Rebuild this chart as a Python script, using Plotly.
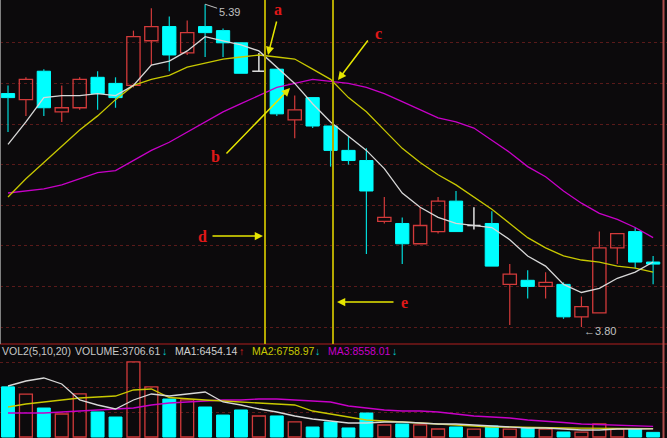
import plotly.graph_objects as go

# ---------------- data ----------------
opens = [4.95, 4.92, 5.06, 4.86, 4.88, 5.03, 5.00, 4.99, 5.21, 5.28, 5.15, 5.28, 5.26, 5.20, 5.06, 5.07,
         4.82, 4.93, 4.79, 4.67, 4.62, 4.32, 4.31, 4.21, 4.27, 4.42, 4.30, 4.31, 4.01, 4.03, 4.00, 4.01,
         3.85, 3.87, 4.19, 4.27, 4.12]
closes = [4.93, 5.02, 4.88, 4.88, 5.02, 4.95, 4.93, 5.23, 5.28, 5.14, 5.25, 5.25, 5.20, 5.05, 5.06, 4.85,
          4.87, 4.79, 4.67, 4.62, 4.47, 4.34, 4.21, 4.30, 4.42, 4.27, 4.30, 4.10, 4.06, 4.00, 4.02, 3.85,
          3.90, 4.19, 4.26, 4.12, 4.11]
highs = [4.99, 5.03, 5.07, 4.99, 5.03, 5.06, 5.03, 5.26, 5.37, 5.33, 5.31, 5.39, 5.27, 5.20, 5.15, 5.07,
         4.94, 4.93, 4.79, 4.74, 4.68, 4.44, 4.34, 4.39, 4.44, 4.47, 4.39, 4.37, 4.11, 4.08, 4.07, 4.02,
         3.95, 4.27, 4.26, 4.29, 4.15]
lows = [4.76, 4.84, 4.84, 4.81, 4.87, 4.87, 4.88, 4.98, 5.09, 5.06, 5.14, 5.13, 5.13, 5.05, 5.06, 4.84,
        4.73, 4.78, 4.59, 4.60, 4.16, 4.31, 4.11, 4.21, 4.26, 4.27, 4.28, 4.10, 3.81, 3.94, 3.94, 3.84,
        3.80, 3.87, 4.11, 4.09, 4.01]

ma5 = [4.70, 4.81, 4.93, 4.94, 4.94, 4.95, 4.94, 4.99, 5.09, 5.11, 5.16, 5.23, 5.21, 5.19, 5.16, 5.08,
       5.00, 4.90, 4.81, 4.74, 4.67, 4.58, 4.46, 4.39, 4.34, 4.31, 4.30, 4.29, 4.23, 4.15, 4.10, 4.01,
       3.97, 3.99, 4.04, 4.07, 4.12]
ma10 = [4.44, 4.53, 4.61, 4.69, 4.77, 4.84, 4.92, 4.99, 5.02, 5.04, 5.08, 5.10, 5.12, 5.13, 5.14, 5.13,
        5.12, 5.07, 5.02, 4.93, 4.86, 4.77, 4.68, 4.61, 4.55, 4.50, 4.44, 4.38, 4.31, 4.24, 4.19, 4.15,
        4.13, 4.12, 4.10, 4.09, 4.07]
ma20 = [4.46, 4.47, 4.48, 4.50, 4.53, 4.56, 4.57, 4.62, 4.67, 4.71, 4.76, 4.81, 4.86, 4.90, 4.94, 4.98,
        5.00, 5.02, 5.01, 5.00, 4.98, 4.95, 4.91, 4.87, 4.83, 4.81, 4.78, 4.72, 4.66, 4.59, 4.54, 4.47,
        4.41, 4.36, 4.33, 4.29, 4.24]

volume = [40120, 34350, 23180, 18420, 34460, 20050, 15980, 60100, 40060, 30380, 29640, 24010, 17560,
          21620, 16790, 16830, 12040, 7980, 12010, 7230, 19180, 9610, 10380, 9640, 6420, 8030, 6380,
          8810, 6370, 7220, 6410, 4020, 3980, 10420, 6390, 6430, 3706.61]
vol_ma1 = [40800, 44800, 47200, 42400, 29600, 25600, 22400, 29600, 34400, 32800, 34400, 36000, 28000,
           25600, 22400, 20000, 16800, 14400, 12800, 11200, 11200, 12000, 12000, 11200, 10400, 10400,
           9600, 8800, 8000, 7200, 7200, 6400, 5600, 5600, 6400, 6400, 6454.14]
vol_ma2 = [24000, 26400, 28000, 29600, 31200, 32000, 32800, 37600, 38400, 31600, 30400, 29600, 28800,
           28000, 27200, 26400, 25600, 20800, 18400, 16000, 13600, 12800, 12000, 11200, 10400, 9600,
           8800, 8000, 8000, 7600, 7400, 7200, 7100, 7000, 6900, 6850, 6758.97]
vol_ma3 = [19200, 19200, 19200, 20000, 20800, 21600, 22400, 23200, 25600, 27200, 28000, 28800, 29600,
           29600, 30400, 30400, 29600, 28800, 28000, 24800, 23200, 21600, 20800, 20800, 20000, 18400,
           16800, 16000, 15200, 13600, 12800, 11600, 10400, 9800, 9300, 8900, 8558.01]

price_grid = [3.8, 4.0, 4.2, 4.4, 4.6, 4.8, 5.0, 5.2]
vol_grid = [20000, 40000, 60000]

# ---------------- styling ----------------
BG = "#0c0a0c"
RED = "#d23a3a"
CYAN = "#00ffff"
WHITE = "#d8d8d8"
YELLOW = "#c8c800"
MAGENTA = "#c800c8"
GRID = "#5a1a1a"
BODY_W = 0.74

n = len(opens)
idx = list(range(n))

fig = go.Figure()

# ---------------- candle bodies ----------------
up_i = [i for i in idx if closes[i] > opens[i]]
dn_i = [i for i in idx if closes[i] < opens[i]]
dj_i = [i for i in idx if closes[i] == opens[i]]

fig.add_trace(go.Bar(
    x=up_i, base=[opens[i] for i in up_i], y=[closes[i] - opens[i] for i in up_i],
    width=BODY_W, marker=dict(color="rgba(0,0,0,0)", line=dict(color=RED, width=1.3)),
    xaxis="x", yaxis="y", hoverinfo="skip"))
fig.add_trace(go.Bar(
    x=dn_i, base=[closes[i] for i in dn_i], y=[opens[i] - closes[i] for i in dn_i],
    width=BODY_W, marker=dict(color=CYAN, line=dict(color=CYAN, width=1)),
    xaxis="x", yaxis="y", hoverinfo="skip"))


def wicks(ids):
    xs, ys = [], []
    for i in ids:
        top = max(opens[i], closes[i])
        bot = min(opens[i], closes[i])
        if highs[i] > top:
            xs += [i, i, None]
            ys += [highs[i], top, None]
        if lows[i] < bot:
            xs += [i, i, None]
            ys += [bot, lows[i], None]
    return xs, ys


for ids, col in ((up_i, RED), (dn_i, "#00d8d8")):
    wx, wy = wicks(ids)
    fig.add_trace(go.Scatter(x=wx, y=wy, mode="lines", line=dict(color=col, width=1.2),
                             xaxis="x", yaxis="y", hoverinfo="skip"))

# doji (open == close) drawn in white
dx, dy = [], []
for i in dj_i:
    dx += [i, i, None, i - BODY_W / 2, i + BODY_W / 2, None]
    dy += [highs[i], lows[i], None, opens[i], opens[i], None]
fig.add_trace(go.Scatter(x=dx, y=dy, mode="lines", line=dict(color="#e0e0e0", width=1.5),
                         xaxis="x", yaxis="y", hoverinfo="skip"))

# ---------------- price moving averages ----------------
for vals, col in ((ma20, MAGENTA), (ma10, YELLOW), (ma5, WHITE)):
    fig.add_trace(go.Scatter(x=idx, y=vals, mode="lines", line=dict(color=col, width=1.3),
                             xaxis="x", yaxis="y", hoverinfo="skip"))

# ---------------- volume ----------------
vup = [i for i in idx if closes[i] >= opens[i]]
vdn = [i for i in idx if closes[i] < opens[i]]
fig.add_trace(go.Bar(x=vup, y=[volume[i] for i in vup], width=0.72,
                     marker=dict(color="rgba(0,0,0,0)", line=dict(color=RED, width=1.3)),
                     xaxis="x2", yaxis="y2", hoverinfo="skip"))
fig.add_trace(go.Bar(x=vdn, y=[volume[i] for i in vdn], width=0.72,
                     marker=dict(color=CYAN, line=dict(color=CYAN, width=1)),
                     xaxis="x2", yaxis="y2", hoverinfo="skip"))
for vals, col in ((vol_ma3, MAGENTA), (vol_ma2, YELLOW), (vol_ma1, WHITE)):
    fig.add_trace(go.Scatter(x=idx, y=vals, mode="lines", line=dict(color=col, width=1.3),
                             xaxis="x2", yaxis="y2", hoverinfo="skip"))

# ---------------- layout ----------------
W, H = 667, 438
SPLIT = 1 - 344 / H
x_lo = -8 / 17.92
x_hi = (W - 8) / 17.92

fig.update_layout(
    width=W, height=H, margin=dict(l=0, r=0, t=0, b=0),
    paper_bgcolor=BG, plot_bgcolor=BG, showlegend=False, barmode="overlay",
    xaxis=dict(domain=[0, 1], range=[x_lo, x_hi], showgrid=False, zeroline=False,
               showticklabels=False, ticks="", anchor="y"),
    xaxis2=dict(domain=[0, 1], range=[x_lo, x_hi], showgrid=False, zeroline=False,
                showticklabels=False, ticks="", anchor="y2", matches="x"),
    yaxis=dict(domain=[SPLIT, 1], range=[3.8 - 17 / 203, 3.8 + 327 / 203],
               tickvals=price_grid, showticklabels=False, ticks="", zeroline=False,
               gridcolor=GRID, griddash="dot", gridwidth=1),
    yaxis2=dict(domain=[0, SPLIT], range=[-800, 74400], tickvals=vol_grid,
                showticklabels=False, ticks="", zeroline=False,
                gridcolor=GRID, griddash="dot", gridwidth=1),
)

shapes = [
    dict(type="line", xref="paper", yref="paper", x0=0, x1=1, y0=SPLIT, y1=SPLIT,
         line=dict(color="#7a1818", width=1.5)),
    dict(type="line", xref="paper", yref="paper", x0=663.5 / W, x1=663.5 / W, y0=0, y1=1,
         line=dict(color="#b04c4c", width=2)),
    dict(type="line", xref="paper", yref="paper", x0=0.5 / W, x1=0.5 / W, y0=SPLIT, y1=1,
         line=dict(color="#808080", width=1)),
]
for vx in ((265 - 8) / 17.92, (333 - 8) / 17.92):
    shapes.append(dict(type="line", xref="x", yref="paper", x0=vx, x1=vx, y0=SPLIT, y1=1,
                       line=dict(color="#b4a800", width=2)))
fig.update_layout(shapes=shapes)


def px2x(p):
    return (p - 8) / 17.92


def py2y(p):
    return 3.8 + (327 - p) / 203


annotations = []
ARROW = "#e6e600"
# arrows (head, tail) in pixel positions converted to data coords
arrows = [((268, 55), (277, 20)),
          ((338, 80), (369, 39)),
          ((290, 88), (225, 155)),
          ((263, 236), (211, 236)),
          ((337, 302), (395, 302))]
for (hx, hy), (tx, ty) in arrows:
    annotations.append(dict(x=px2x(hx), y=py2y(hy), ax=px2x(tx), ay=py2y(ty),
                            xref="x", yref="y", axref="x", ayref="y", text="",
                            showarrow=True, arrowhead=2, arrowsize=1.1, arrowwidth=1.5,
                            arrowcolor=ARROW))
labels = [("a", 278, 9), ("c", 378, 33), ("b", 215, 156), ("d", 202, 236), ("e", 404, 302)]
for t, lx, ly in labels:
    annotations.append(dict(x=px2x(lx), y=py2y(ly), xref="x", yref="y", text="<b>" + t + "</b>",
                            showarrow=False,
                            font=dict(family="Liberation Serif", size=16, color="#e01818")))

# high / low marks
annotations.append(dict(x=11, y=highs[11], xref="x", yref="y", text=f"{highs[11]:.2f}",
                        showarrow=True, ax=24, ay=8, arrowhead=0, arrowwidth=1,
                        arrowcolor="#c0c0c0",
                        font=dict(family="Liberation Sans", size=11, color="#c0c0c0")))
annotations.append(dict(x=32 + 0.02, y=lows[32], xref="x", yref="y", text=f"←{lows[32]:.2f}",
                        showarrow=False, xanchor="left", yanchor="middle", yshift=-4,
                        font=dict(family="Liberation Sans", size=11, color="#c0c0c0")))

# volume header
hy = 1 - 351 / H
hdr = [(0, "VOL2(5,10,20)", "#c8c8c8"),
       (73, f"VOLUME:{volume[-1]:.2f}", "#c8c8c8"),
       (160, "↓", "#00c8c8"),
       (173, f"MA1:{vol_ma1[-1]:.2f}", "#d0d0d0"),
       (237, "↑", "#e02020"),
       (250, f"MA2:{vol_ma2[-1]:.2f}", YELLOW),
       (313, "↓", "#00c8c8"),
       (326, f"MA3:{vol_ma3[-1]:.2f}", MAGENTA),
       (390, "↓", "#00c8c8")]
for px, t, col in hdr:
    annotations.append(dict(x=px / W, y=hy, xref="paper", yref="paper", text=t,
                            showarrow=False, xanchor="left", yanchor="middle",
                            font=dict(family="Liberation Sans", size=10.5, color=col)))

fig.update_layout(annotations=annotations)

fig.write_html("out.html",
               config={"displayModeBar": False, "staticPlot": True},
               post_script="document.body.style.margin='0';document.body.style.padding='0';"
                           "document.body.style.overflow='hidden';"
                           "document.body.style.background='" + BG + "';")
